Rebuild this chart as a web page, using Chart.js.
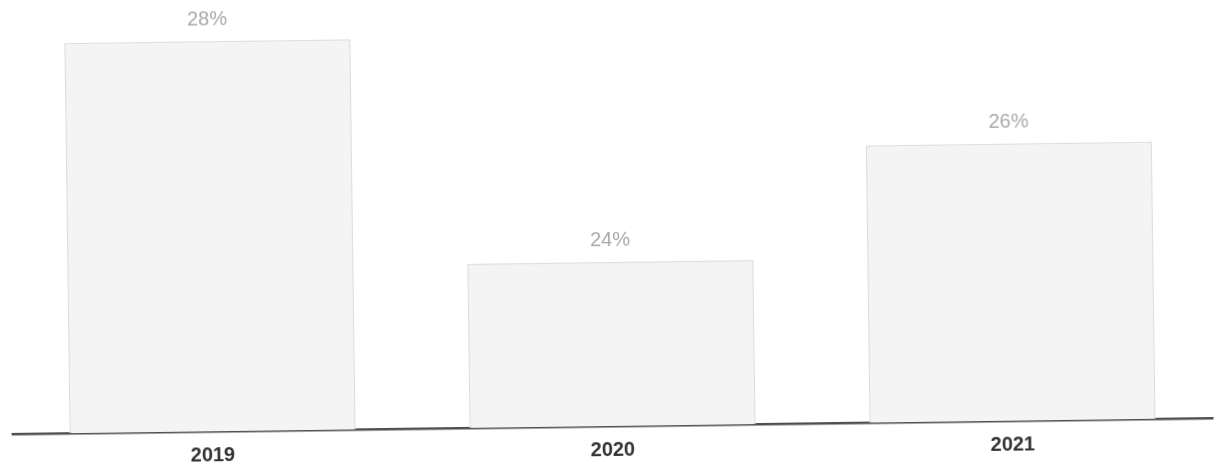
<!DOCTYPE html>
<html>
<head>
<meta charset="utf-8">
<script src="https://cdn.jsdelivr.net/npm/chart.js@4/dist/chart.umd.min.js"></script>
<style>
  html, body { margin: 0; padding: 0; background: #ffffff; overflow: hidden; }
  #wrap { width: 1219px; height: 470px; }
  #chart { display: block; transform: rotate(-0.76deg); transform-origin: 50% 50%; }
</style>
</head>
<body>
<div id="wrap"><canvas id="chart" width="1219" height="470"></canvas></div>
<script>
// Share by year (%)
const years = ['2019', '2020', '2021'];
const shares = [28, 24, 26];

// Value labels above each bar
const valueLabels = {
  id: 'valueLabels',
  afterDatasetsDraw(chart) {
    const ctx = chart.ctx;
    const meta = chart.getDatasetMeta(0);
    ctx.save();
    ctx.font = '20px "Liberation Sans", Arial, sans-serif';
    ctx.fillStyle = '#a9a9a9';
    ctx.textAlign = 'center';
    ctx.textBaseline = 'middle';
    meta.data.forEach((bar, i) => {
      ctx.fillText(shares[i] + '%', bar.x, bar.y - 21);
    });
    ctx.restore();
  }
};

new Chart(document.getElementById('chart'), {
  type: 'bar',
  data: {
    labels: years,
    datasets: [{
      data: shares,
      backgroundColor: '#f4f4f4',
      borderColor: '#dedede',
      borderWidth: 1.5,
      categoryPercentage: 1,
      barPercentage: 0.715
    }]
  },
  options: {
    responsive: false,
    devicePixelRatio: 1,
    animation: false,
    layout: { padding: { left: 10, right: 9, top: 30, bottom: -4 } },
    plugins: {
      legend: { display: false },
      tooltip: { enabled: false }
    },
    scales: {
      x: {
        grid: { display: false, drawTicks: false },
        border: { display: true, color: '#4f4f4f', width: 2.5 },
        ticks: {
          padding: 14,
          color: '#333333',
          font: { family: '"Liberation Sans", Arial, sans-serif', size: 20, weight: 'bold', lineHeight: 1 }
        }
      },
      y: {
        display: false,
        min: 21.1,
        max: 28.1
      }
    }
  },
  plugins: [valueLabels]
});
</script>
</body>
</html>
